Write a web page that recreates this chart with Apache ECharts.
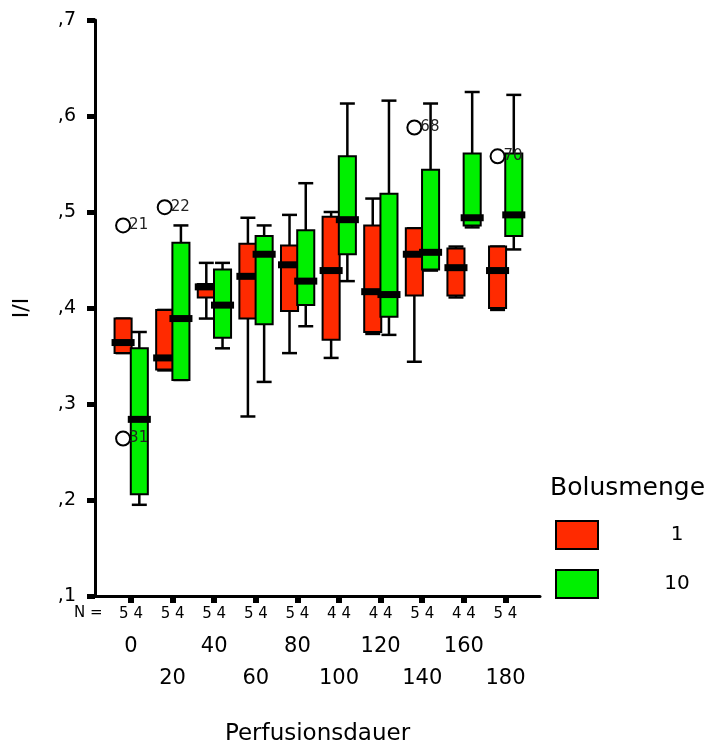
<!DOCTYPE html>
<html>
<head>
<meta charset="utf-8">
<script src="https://cdn.jsdelivr.net/npm/echarts@6/dist/echarts.min.js"></script>
<style>html,body{margin:0;padding:0;background:#fff}#c{width:711px;height:745px}</style>
</head>
<body>
<div id="c"></div>
<script>
// Perfusionsdauer groups
const categories = ['0','20','40','60','80','100','120','140','160','180'];
// case counts per group
const nRed = [5,5,5,5,5,4,4,5,4,5];
const nGreen = [4,4,4,4,4,4,4,4,4,4];
// Bolusmenge 1: [lower whisker, Q1, median, Q3, upper whisker]
const bolus1 = [
  [0.353, 0.353, 0.364, 0.389, 0.389],
  [0.335, 0.336, 0.348, 0.398, 0.398],
  [0.389, 0.411, 0.422, 0.425, 0.447],
  [0.287, 0.389, 0.433, 0.467, 0.494],
  [0.353, 0.397, 0.445, 0.465, 0.497],
  [0.348, 0.367, 0.439, 0.495, 0.500],
  [0.373, 0.375, 0.417, 0.486, 0.514],
  [0.344, 0.413, 0.456, 0.483, 0.483],
  [0.411, 0.413, 0.442, 0.462, 0.464],
  [0.398, 0.400, 0.439, 0.464, 0.464]
];
// Bolusmenge 10
const bolus10 = [
  [0.195, 0.206, 0.284, 0.358, 0.375],
  [0.325, 0.325, 0.389, 0.468, 0.486],
  [0.358, 0.369, 0.403, 0.440, 0.447],
  [0.323, 0.383, 0.456, 0.475, 0.486],
  [0.381, 0.403, 0.428, 0.481, 0.530],
  [0.428, 0.456, 0.492, 0.558, 0.613],
  [0.372, 0.391, 0.414, 0.519, 0.616],
  [0.439, 0.440, 0.458, 0.544, 0.613],
  [0.484, 0.486, 0.494, 0.561, 0.625],
  [0.461, 0.475, 0.497, 0.561, 0.622]
];
// outliers of Bolusmenge 1: [group index, value, case id]
const outliers1 = [
  [0, 0.486, '21'],
  [0, 0.264, '31'],
  [1, 0.505, '22'],
  [7, 0.588, '68'],
  [9, 0.558, '70']
];
const yTickLabels = [',1', ',2', ',3', ',4', ',5', ',6', ',7'];

const RED = '#ff2a00', GREEN = '#00f000';
const FONT = 'DejaVu Sans';
const idx = categories.map((c, i) => i);

function boxRender(offsetFrac, color) {
  return function (params, api) {
    const x = api.value(0);
    const unit = api.size([1, 0])[0];
    const cx = api.coord([x, 0.1])[0] + offsetFrac * unit;
    const yLow = api.coord([x, api.value(1)])[1];
    const yQ1 = api.coord([x, api.value(2)])[1];
    const yMed = api.coord([x, api.value(3)])[1];
    const yQ3 = api.coord([x, api.value(4)])[1];
    const yHigh = api.coord([x, api.value(5)])[1];
    const bw = 0.41 * unit;
    const cap = 0.36 * unit;
    const ls = { stroke: '#000', lineWidth: 2.5 };
    return {
      type: 'group',
      children: [
        { type: 'line', shape: { x1: cx, y1: yQ3, x2: cx, y2: yHigh }, style: ls },
        { type: 'line', shape: { x1: cx, y1: yQ1, x2: cx, y2: yLow }, style: ls },
        { type: 'line', shape: { x1: cx - cap / 2, y1: yHigh, x2: cx + cap / 2, y2: yHigh }, style: ls },
        { type: 'line', shape: { x1: cx - cap / 2, y1: yLow, x2: cx + cap / 2, y2: yLow }, style: ls },
        { type: 'rect', shape: { x: cx - bw / 2, y: yQ3, width: bw, height: yQ1 - yQ3 },
          style: { fill: color, stroke: '#000', lineWidth: 2 } },
        { type: 'rect', shape: { x: cx - bw / 2 - 3, y: yMed - 3.5, width: bw + 6, height: 7 },
          style: { fill: '#000' } }
      ]
    };
  };
}

function outlierRender(offsetFrac) {
  return function (params, api) {
    const x = api.value(0);
    const unit = api.size([1, 0])[0];
    const p = api.coord([x, api.value(1)]);
    const cx = p[0] + offsetFrac * unit;
    return {
      type: 'group',
      children: [
        { type: 'circle', shape: { cx: cx, cy: p[1], r: 7 },
          style: { fill: 'none', stroke: '#000', lineWidth: 2 } },
        { type: 'text', x: cx + 6, y: p[1],
          style: { text: String(api.value(2)), fill: '#222', font: '15px ' + FONT,
                   verticalAlign: 'middle', align: 'left' } }
      ]
    };
  };
}

const chart = echarts.init(document.getElementById('c'), null, { renderer: 'canvas' });
chart.setOption({
  animation: false,
  textStyle: { fontFamily: FONT, color: '#000' },
  grid: { left: 95, top: 20, right: 171, bottom: 149, outerBoundsMode: 'none', containLabel: false },
  xAxis: [
    {
      type: 'value', min: -0.865, max: 9.83,
      axisLine: { show: true, onZero: false, lineStyle: { color: '#000', width: 3 } },
      axisTick: { show: true, customValues: idx, length: 7, lineStyle: { color: '#000', width: 6 } },
      axisLabel: { show: true, customValues: idx, fontSize: 15, color: '#000', margin: 11,
                   formatter: (v) => nRed[v] + ' ' + nGreen[v] },
      splitLine: { show: false }
    },
    {
      type: 'value', min: -0.865, max: 9.83, position: 'bottom',
      axisLine: { show: false }, axisTick: { show: false },
      axisLabel: { show: true, customValues: idx, fontSize: 21, lineHeight: 32, color: '#000', margin: 35,
                   formatter: (v) => (v % 2 ? '\n' + categories[v] : categories[v]) },
      splitLine: { show: false },
      name: 'Perfusionsdauer', nameLocation: 'middle', nameGap: 127,
      nameTextStyle: { fontSize: 23, color: '#000' }
    }
  ],
  yAxis: {
    type: 'value', min: 0.1, max: 0.7, interval: 0.1,
    axisLine: { show: true, onZero: false, lineStyle: { color: '#000', width: 3 } },
    axisTick: { show: true, length: 8, lineStyle: { color: '#000', width: 5 } },
    axisLabel: { fontSize: 19, color: '#000', margin: 19,
                 formatter: (v) => yTickLabels[Math.round(v * 10) - 1] },
    splitLine: { show: false },
    name: 'I/I', nameLocation: 'middle', nameGap: 62,
    nameTextStyle: { fontSize: 22, color: '#000' }
  },
  legend: {
    orient: 'vertical', left: 555, top: 520, padding: 0,
    itemWidth: 42, itemHeight: 28, itemGap: 19,
    formatter: (name) => '{a|' + name + '}',
    textStyle: { fontSize: 20, color: '#000', rich: { a: { width: 148, align: 'center', fontSize: 20 } } },
    data: [
      { name: '1', icon: 'rect', itemStyle: { color: RED, borderColor: '#000', borderWidth: 2 } },
      { name: '10', icon: 'rect', itemStyle: { color: GREEN, borderColor: '#000', borderWidth: 2 } }
    ]
  },
  graphic: [
    { type: 'text', left: 550, top: 476, style: { text: 'Bolusmenge', font: '25px ' + FONT, fill: '#000' } },
    { type: 'text', left: 74, top: 606, style: { text: 'N =', font: '15px ' + FONT, fill: '#000' } }
  ],
  series: [
    {
      name: '1', type: 'custom', xAxisIndex: 0, itemStyle: { color: RED },
      renderItem: boxRender(-0.19, RED),
      encode: { x: 0, y: [1, 2, 3, 4, 5] },
      data: bolus1.map((d, i) => [i].concat(d))
    },
    {
      name: '10', type: 'custom', xAxisIndex: 0, itemStyle: { color: GREEN },
      renderItem: boxRender(0.2, GREEN),
      encode: { x: 0, y: [1, 2, 3, 4, 5] },
      data: bolus10.map((d, i) => [i].concat(d))
    },
    {
      name: 'outliers', type: 'custom', xAxisIndex: 0,
      renderItem: outlierRender(-0.19),
      encode: { x: 0, y: 1 },
      data: outliers1
    }
  ]
});
</script>
</body>
</html>
